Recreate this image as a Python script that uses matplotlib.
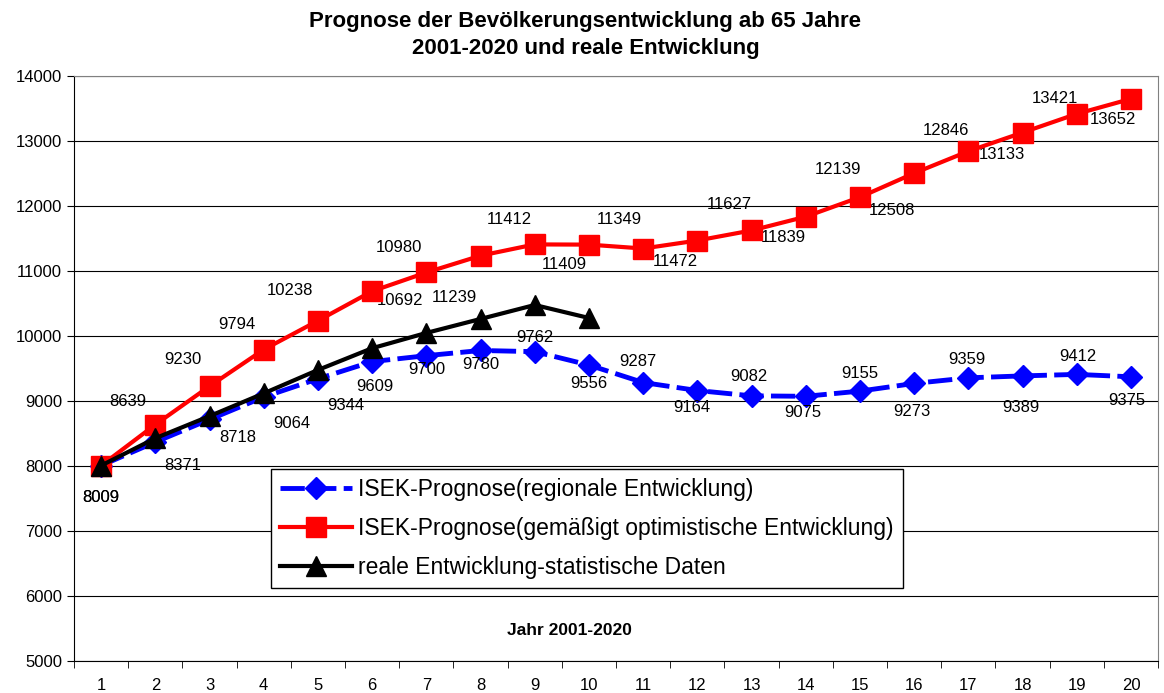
import matplotlib
matplotlib.use("Agg")
import matplotlib.pyplot as plt
import numpy as np

plt.rcParams['font.family'] = ['Liberation Sans', 'DejaVu Sans']

# data
years = list(range(1, 21))
regional = [8009, 8371, 8718, 9064, 9344, 9609, 9700, 9780, 9762, 9556,
            9287, 9164, 9082, 9075, 9155, 9273, 9359, 9389, 9412, 9375]
optimistic = [8009, 8639, 9230, 9794, 10238, 10692, 10980, 11239, 11412, 11409,
              11349, 11472, 11627, 11839, 12139, 12508, 12846, 13133, 13421, 13652]
real_years = list(range(1, 11))
real = [8009, 8430, 8770, 9120, 9480, 9815, 10050, 10265, 10480, 10280]

# label offsets in points (dx, dy)
red_off = [(0, -23), (-20, 17), (-19, 19), (-19, 18), (-20, 22), (20, -7),
           (-20, 18), (-19, -30), (-18, 18), (-18, -14), (-17, 21), (-16, -15),
           (-16, 19), (-16, -15), (-16, 20), (-16, -27), (-16, 15), (-15, -16),
           (-16, 11), (-13, -15)]
blue_off = [(0, -23), (20, -17), (20, -13), (20, -19), (20, -19), (2, -18),
            (0, -10), (0, -10), (0, 10), (0, -13), (-4, 15), (-4, -12),
            (-2, 14), (-2, -12), (0, 13), (-2, -20), (-1, 13), (-1, -23),
            (1, 13), (-3, -17)]

fig = plt.figure(figsize=(11.64, 6.93), dpi=100)
ax = fig.add_axes([0.0636, 0.046, 0.9313, 0.844])

ax.plot(years, regional, color='#0000FF', lw=3.5, dashes=(5, 1.5),
        marker='D', ms=11, label='ISEK-Prognose(regionale Entwicklung)', zorder=3)
ax.plot(years, optimistic, color='#FF0000', lw=3, marker='s', ms=14,
        label='ISEK-Prognose(gemäßigt optimistische Entwicklung)', zorder=4)
ax.plot(real_years, real, color='black', lw=3, marker='^', ms=14,
        label='reale Entwicklung-statistische Daten', zorder=5)

for x, y, o in zip(years, optimistic, red_off):
    ax.annotate(str(y), (x, y), xytext=o, textcoords='offset points',
                ha='center', va='center', fontsize=12)
for x, y, o in zip(years, regional, blue_off):
    ax.annotate(str(y), (x, y), xytext=o, textcoords='offset points',
                ha='center', va='center', fontsize=12)

ax.set_xlim(0.5, 20.5)
ax.set_ylim(5000, 14000)
ax.set_yticks(np.arange(5000, 14001, 1000))
ax.set_xticks(years)
ax.set_xticks(np.arange(0.5, 20.6, 1), minor=True)
ax.tick_params(axis='y', labelsize=12, length=5)
ax.tick_params(axis='x', which='major', labelsize=12, length=0, pad=12)
ax.tick_params(axis='x', which='minor', length=5)
ax.yaxis.grid(True, color='black', lw=0.8)
ax.set_axisbelow(True)
for s in ['top', 'right']:
    ax.spines[s].set_color('#808080')

ax.text(0.457, 0.053, 'Jahr 2001-2020', transform=ax.transAxes, ha='center',
        va='center', fontsize=12.5, fontweight='bold')

leg = ax.legend(loc='lower left', bbox_to_anchor=(0.182, 0.125), fontsize=16.5,
                frameon=True, fancybox=False, edgecolor='black', framealpha=1,
                handlelength=3.1, borderpad=0.4, labelspacing=0.7, handletextpad=0.3,
                borderaxespad=0)
leg.get_frame().set_linewidth(1)

fig.suptitle('Prognose der Bevölkerungsentwicklung ab 65 Jahre\n2001-2020 und reale Entwicklung',
             fontsize=16, fontweight='bold', x=0.503, y=0.984, linespacing=1.4)

fig.savefig('out.png', dpi=100)
